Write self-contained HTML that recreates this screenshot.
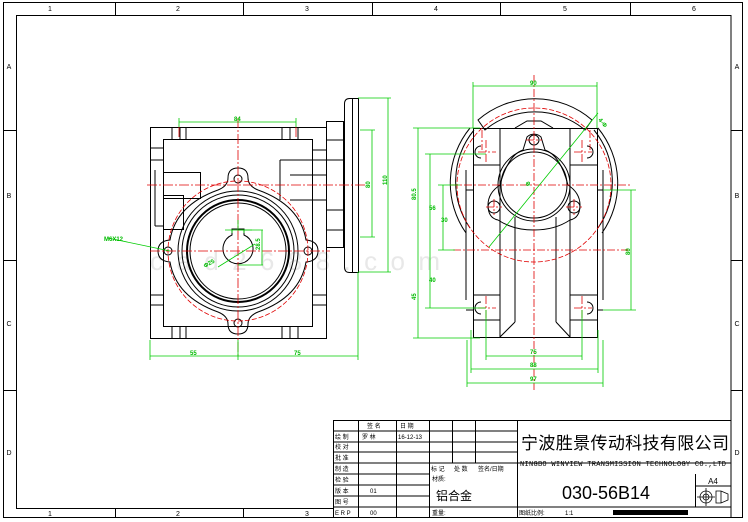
<!DOCTYPE html>
<html><head><meta charset="utf-8"><style>
html,body{margin:0;padding:0;background:#fff;}
svg{display:block;font-family:"Liberation Sans","Noto Sans CJK SC",sans-serif;}
</style></head><body>
<svg width="748" height="522" viewBox="0 0 748 522" xmlns="http://www.w3.org/2000/svg">
<text x="150" y="270" font-size="26" fill="#e8e8e8" textLength="290">cad2688.com</text>
<g fill="none" stroke="#000" stroke-width="1">
<rect x="3.5" y="2.5" width="739" height="515"/>
<rect x="16.5" y="15.5" width="714.5" height="493"/>
<path d="M115.5 3V15M243.5 3V15M372.5 3V15M500.5 3V15M630.5 3V15M115.5 509V517M243.5 509V517M3 130.5H16M3 260.5H16M3 390.5H16M731 130.5H742M731 260.5H742M731 390.5H742"/>
</g>
<g font-size="7" fill="#000" text-anchor="middle">
<text x="50" y="11">1</text><text x="178" y="11">2</text><text x="307" y="11">3</text><text x="436" y="11">4</text><text x="565" y="11">5</text><text x="694" y="11">6</text>
<text x="50" y="516">1</text><text x="178" y="516">2</text><text x="307" y="516">3</text>
<text x="9" y="69">A</text><text x="9" y="198">B</text><text x="9" y="326">C</text><text x="9" y="455">D</text>
<text x="737" y="69">A</text><text x="737" y="198">B</text><text x="737" y="326">C</text><text x="737" y="455">D</text>
</g>

<!-- LEFT VIEW -->
<g fill="none" stroke="#000" stroke-width="1">
<rect x="150.5" y="127.5" width="176" height="211"/>
<rect x="163.5" y="139.5" width="149" height="187"/>
<path d="M172 127V139M180 127V139M186 127V139M282 127V139M290 127V139M298 127V139M172 326V338M180 326V338M186 326V338M282 326V338M290 326V338M298 326V338"/>
<path d="M150 148H163M150 160H163M150 295H163M150 305H163M312 295H326M312 305H326M312 150H326M312 160H326"/>
<rect x="163.5" y="172.5" width="37" height="26"/>
<rect x="163.5" y="195.5" width="20" height="34"/>
<path d="M280 160H312M280 160V200M290 175H326M290 200H326M155 170V226M155 226H163"/>
<rect x="326.5" y="121.5" width="17" height="126"/>
<path d="M326 140H344M326 160H344M326 210H344M326 230H344"/>
<path d="M349.5 98.5H358.5V272.5H349.5Q344.5 272.5 344.5 267V104Q344.5 98.5 349.5 98.5Z"/>
<line x1="352.5" y1="99" x2="352.5" y2="272"/>
<path d="M228 178 Q228 168 238 168 Q248 168 248 178 Q248 186 258 190 Q300 205 306 240 Q318 241 318 251 Q318 261 306 262 Q300 297 258 312 Q248 316 248 324 Q248 334 238 334 Q228 334 228 324 Q228 316 218 312 Q176 297 170 262 Q158 261 158 251 Q158 241 170 240 Q176 205 218 190 Q228 186 228 178Z"/>
<circle cx="238" cy="179" r="4"/><circle cx="238" cy="323" r="4"/><circle cx="168" cy="251" r="4"/><circle cx="308" cy="251" r="4"/>
<circle cx="238" cy="251" r="60"/><circle cx="238" cy="251" r="56"/>
<circle cx="238" cy="251" r="51" stroke-width="2"/><circle cx="238" cy="251" r="48"/>
<path d="M232 235V229H244V235A15 15 0 1 1 232 235Z"/>
</g>
<g fill="none" stroke="#e00000" stroke-width="0.8">
<circle cx="238" cy="251" r="70" stroke-dasharray="5 2"/>
<path d="M238 118V356M147 185H366M150 251H330M179 127V139M296 127V139" stroke-dasharray="10 2 2 2"/>
</g>
<g fill="none" stroke="#00cc00" stroke-width="0.8">
<path d="M179 122H296M179 118V127M296 118V127"/>
<path d="M150 356H358M150 340V360M358 272V360M238 340V360"/>
<path d="M358 98H391M388 98V272M372 130V237M360 130H375M360 237H375M358 272H391"/>
<path d="M232 233V230M244 233V230M225 230H252M238 220V229"/>
<path d="M238 230H263M238 265H263M262 230V265M218 267L255 244M108 238L170 251"/>
</g>
<g font-size="6" fill="#00bb00" font-weight="bold">
<text x="104" y="241">M6X12</text>
<text x="387" y="185" transform="rotate(-90 387 185)">110</text>
<text x="370" y="188" transform="rotate(-90 370 188)">80</text>
<text x="234" y="121">84</text><text x="190" y="355">55</text><text x="294" y="355">75</text>
<text x="260" y="250" transform="rotate(-90 260 250)">28.5</text>
<text x="205" y="268" transform="rotate(-30 205 268)">Φ25</text>
</g>

<!-- RIGHT VIEW -->
<g fill="none" stroke="#000" stroke-width="1">
<path d="M478 120 A87 87 0 0 1 592 120 L585 130 A78 78 0 0 0 485 130Z"/>
<path d="M470 128 A87 87 0 0 0 466 233M598 128 A87 87 0 0 1 602 233"/>
<path d="M474 130 A82 82 0 0 0 470 228M594 130 A82 82 0 0 1 598 228"/>
<rect x="473.5" y="128.5" width="124" height="209"/>
<path d="M466 170V300M603 170V300M466 190H473M597 190H603M466 310H473M597 310H603"/>
<path d="M500 128V337M570 128V337M515 217V322M556 217V322M515 322L500 337M556 322L570 337M473 165H500M570 165H597M473 295H500M570 295H597M473 320H500M570 320H597"/>
<path d="M515 128L527 121H541L553 128"/>
<path d="M527 137 A10 10 0 0 1 541 137 L545 150 Q560 155 568 185 Q580 193 580 205 Q580 218 570 220 Q555 230 534 230 Q513 230 498 220 Q488 218 488 205 Q488 193 500 185 Q508 155 523 150Z"/>
<circle cx="534" cy="185" r="36"/><circle cx="534" cy="185" r="33"/>
<circle cx="534" cy="140" r="5"/><circle cx="494" cy="207" r="6"/><circle cx="574" cy="207" r="6"/>
<path d="M481 146 A6 6 0 0 0 481 158M587 146 A6 6 0 0 1 587 158M481 302 A6 6 0 0 0 481 314M587 302 A6 6 0 0 1 587 314"/>
</g>
<g fill="none" stroke="#e00000" stroke-width="0.8">
<circle cx="534" cy="185" r="77" stroke-dasharray="5 2"/>
<path d="M534 75V390M450 185H630M453 250H628M486 140V162M478 152H496M582 140V162M574 152H592M486 296V320M478 308H496M582 296V320M574 308H592M494 199V215M486 207H502M574 199V215M566 207H582M534 132V148M526 140H542M482 130V150M590 130V150" stroke-dasharray="8 2 2 2"/>
</g>
<g fill="none" stroke="#00cc00" stroke-width="0.8">
<path d="M473 86H597M473 82V128M597 82V128"/>
<path d="M486 356H582M486 310V360M582 310V360M471 369H598M471 330V373M598 330V373M467 383H603M467 340V387M603 340V387"/>
<path d="M418 128V338M413 128H480M413 338H480M430 154V308M425 154H486M425 308H486M443 185V250M438 185H460M438 250H455"/>
<path d="M631 190V310M603 190H636M603 310H636M489 247L598 113"/>
</g>
<g font-size="6" fill="#00bb00" font-weight="bold">
<text x="530" y="85">90</text><text x="530" y="354">75</text><text x="530" y="367">88</text><text x="530" y="381">97</text>
<text x="416" y="200" transform="rotate(-90 416 200)">80.5</text>
<text x="429" y="210">56</text><text x="441" y="222">30</text>
<text x="416" y="300" transform="rotate(-90 416 300)">45</text>
<text x="429" y="282">40</text>
<text x="630" y="255" transform="rotate(-90 630 255)">80</text>
<text x="598" y="120" transform="rotate(50 598 120)">4-Φ</text>
<text x="528" y="187" transform="rotate(-50 528 187)">Φ</text>
</g>

<!-- TITLE BLOCK -->
<g fill="#fff" stroke="#000" stroke-width="1">
<rect x="333.5" y="420.5" width="397.5" height="97"/>
</g>
<g fill="none" stroke="#000" stroke-width="1">
<path d="M333 431H517M333 442H517M333 452H517M333 463H731M333 474H429M333 485H429M333 496H429M333 507H731"/>
<path d="M358.5 420V517M396.5 420V517M429.5 420V517M452.5 420V463M475.5 420V463M517.5 420V517M695.5 474V507M695 486H731"/>
</g>
<rect x="613" y="510" width="75" height="5" fill="#000"/>
<g font-size="6" fill="#000">
<text x="367" y="428">签 名</text><text x="400" y="428">日 期</text>
<text x="335" y="439">绘 制</text><text x="362" y="439">罗 林</text><text x="398" y="439">16-12-13</text>
<text x="335" y="449">校 对</text><text x="335" y="460">批 准</text><text x="335" y="471">制 造</text>
<text x="431" y="471">标 记</text><text x="454" y="471">处 数</text><text x="478" y="471">签名/日期</text>
<text x="335" y="482">检 验</text><text x="335" y="493">版 本</text><text x="370" y="493">01</text>
<text x="335" y="504">图 号</text><text x="335" y="515">E R P</text><text x="370" y="515">00</text>
<text x="432" y="481">材质:</text><text x="432" y="515">重量:</text>
<text x="519" y="515">图纸比例:</text><text x="565" y="515">1:1</text>
<text x="520" y="466" font-size="7" font-family="Liberation Mono,monospace" textLength="206">NINGBO WINVIEW TRANSMISSION TECHNOLOGY CO.,LTD</text>
</g>
<text x="436" y="500" font-size="12" fill="#000">铝合金</text>
<text x="521" y="449" font-size="17" fill="#000" textLength="208">宁波胜景传动科技有限公司</text>
<text x="606" y="499" font-size="18" fill="#000" text-anchor="middle">030-56B14</text>
<text x="713" y="484" font-size="8" fill="#000" text-anchor="middle">A4</text>
<g fill="none" stroke="#000" stroke-width="0.8">
<circle cx="706" cy="497" r="6"/><circle cx="706" cy="497" r="3"/><path d="M697 497H715M706 488V506"/>
<path d="M716 491H721L728 494V500L721 503H716ZM721 491V503"/>
</g>
</svg>
</body></html>
